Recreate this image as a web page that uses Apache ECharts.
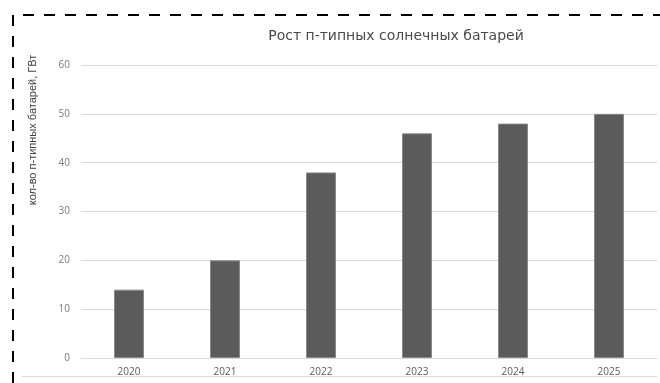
<!DOCTYPE html>
<html>
<head>
<meta charset="utf-8">
<script src="https://cdn.jsdelivr.net/npm/echarts@6/dist/echarts.min.js"></script>
<style>
  html, body { margin: 0; padding: 0; background: #fff; }
  #chart { width: 660px; height: 383px; }
</style>
</head>
<body>
<div id="chart"></div>
<script>
// Годы и объём производства n-типных батарей, ГВт
const years = ['2020', '2021', '2022', '2023', '2024', '2025'];
const capacityGW = [14, 20, 38, 46, 48, 50];
const yTicks = { min: 0, max: 60, interval: 10 };

const chartTitle = 'Рост п-типных солнечных батарей';
const yAxisTitle = 'кол-во п-типных батарей, ГВт';

const chart = echarts.init(document.getElementById('chart'), null, { renderer: 'canvas' });

chart.setOption({
  animation: false,
  backgroundColor: '#ffffff',
  title: {
    text: chartTitle,
    left: 391,
    top: 24,
    textAlign: 'center',
    textStyle: {
      fontFamily: 'DejaVu Sans',
      fontSize: 14,
      fontWeight: 'normal',
      color: '#4a4a4a'
    }
  },
  grid: { left: 81, right: 3, top: 65, bottom: 25, containLabel: false },
  xAxis: {
    type: 'category',
    data: years,
    axisLine: { show: true, lineStyle: { color: '#d9d9d9', width: 1 } },
    axisTick: { show: false },
    axisLabel: {
      margin: 9,
      fontFamily: 'Open Sans',
      fontSize: 10,
      color: '#595959'
    }
  },
  yAxis: {
    type: 'value',
    min: yTicks.min,
    max: yTicks.max,
    interval: yTicks.interval,
    axisLine: { show: false },
    axisTick: { show: false },
    splitLine: { lineStyle: { color: '#d9d9d9', width: 1 } },
    axisLabel: {
      margin: 11,
      fontFamily: 'Open Sans',
      fontSize: 10,
      color: '#7a7a7a'
    }
  },
  series: [{
    type: 'bar',
    data: capacityGW,
    barWidth: 30,
    itemStyle: {
      color: '#5b5b5b',
      borderColor: '#888888',
      borderWidth: 1
    }
  }],
  graphic: [
    {
      type: 'text',
      x: 33,
      y: 130,
      rotation: Math.PI / 2,
      style: {
        text: yAxisTitle,
        fontFamily: 'Liberation Sans Narrow, Liberation Sans',
        fontSize: 11,
        fill: '#404040',
        align: 'center',
        verticalAlign: 'middle'
      }
    },
    {
      type: 'line',
      shape: { x1: 22, y1: 376.5, x2: 657, y2: 376.5 },
      style: { stroke: '#d9d9d9', lineWidth: 1 }
    },
    {
      type: 'polyline',
      shape: { points: [[13, 383], [13, 15], [660, 15]] },
      style: { stroke: '#000000', lineWidth: 2, lineDash: [11, 10], fill: null }
    }
  ]
});
</script>
</body>
</html>
